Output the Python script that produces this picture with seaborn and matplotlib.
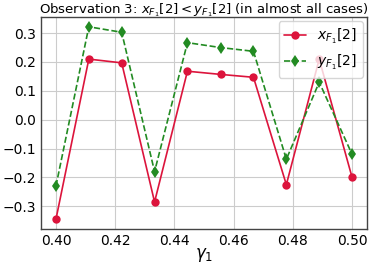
import numpy as np
import pandas as pd
import matplotlib
matplotlib.use("Agg")
import matplotlib.pyplot as plt
import seaborn as sns

gamma1 = [0.4, 0.4111, 0.4222, 0.4333, 0.4444, 0.4556, 0.4667, 0.4778, 0.4889, 0.5]
x_vals = [-0.345, 0.21, 0.197, -0.285, 0.168, 0.157, 0.147, -0.225, 0.21, -0.2]
y_vals = [-0.23, 0.322, 0.303, -0.18, 0.267, 0.25, 0.237, -0.137, 0.13, -0.12]
yticks = [-0.3, -0.2, -0.1, 0.0, 0.1, 0.2, 0.3]
xticks = [0.40, 0.42, 0.44, 0.46, 0.48, 0.50]

sns.set_style("whitegrid")
plt.rcParams['font.family'] = ['DejaVu Sans']
plt.rcParams['text.color'] = 'black'
plt.rcParams['xtick.color'] = 'black'
plt.rcParams['ytick.color'] = 'black'
plt.rcParams['axes.labelcolor'] = 'black'

fig, ax = plt.subplots(figsize=(3.74, 2.64), dpi=100)
df = pd.DataFrame({"g": gamma1, "x": x_vals, "y": y_vals})
sns.lineplot(data=df, x="g", y="x", ax=ax, color="crimson", marker="o",
             markersize=6, markeredgewidth=0, linewidth=1.2, label=r"$x_{F_1}[2]$")
sns.lineplot(data=df, x="g", y="y", ax=ax, color="forestgreen", marker="d",
             markersize=6, markeredgewidth=0, linewidth=1.2, linestyle="--",
             label=r"$y_{F_1}[2]$")
for s in ax.spines.values():
    s.set_color("#444444")
    s.set_linewidth(1.0)
ax.tick_params(axis="both", which="both", length=0, labelsize=10, pad=3.5)
ax.set_xticks(xticks)
ax.set_yticks(yticks)
ax.set_xlabel(r"$\gamma_1$", fontsize=12, labelpad=-1)
ax.set_ylabel("")
ax.set_title(r"Observation 3: $x_{F_1}[2] < y_{F_1}[2]$ (in almost all cases)",
             fontsize=9.5, pad=3)
ax.legend(loc="upper right", fontsize=10, framealpha=0.8, handlelength=1.6,
          borderaxespad=0.3)
fig.subplots_adjust(left=0.11, right=0.981, top=0.935, bottom=0.133)
fig.savefig("out.png", dpi=100)
